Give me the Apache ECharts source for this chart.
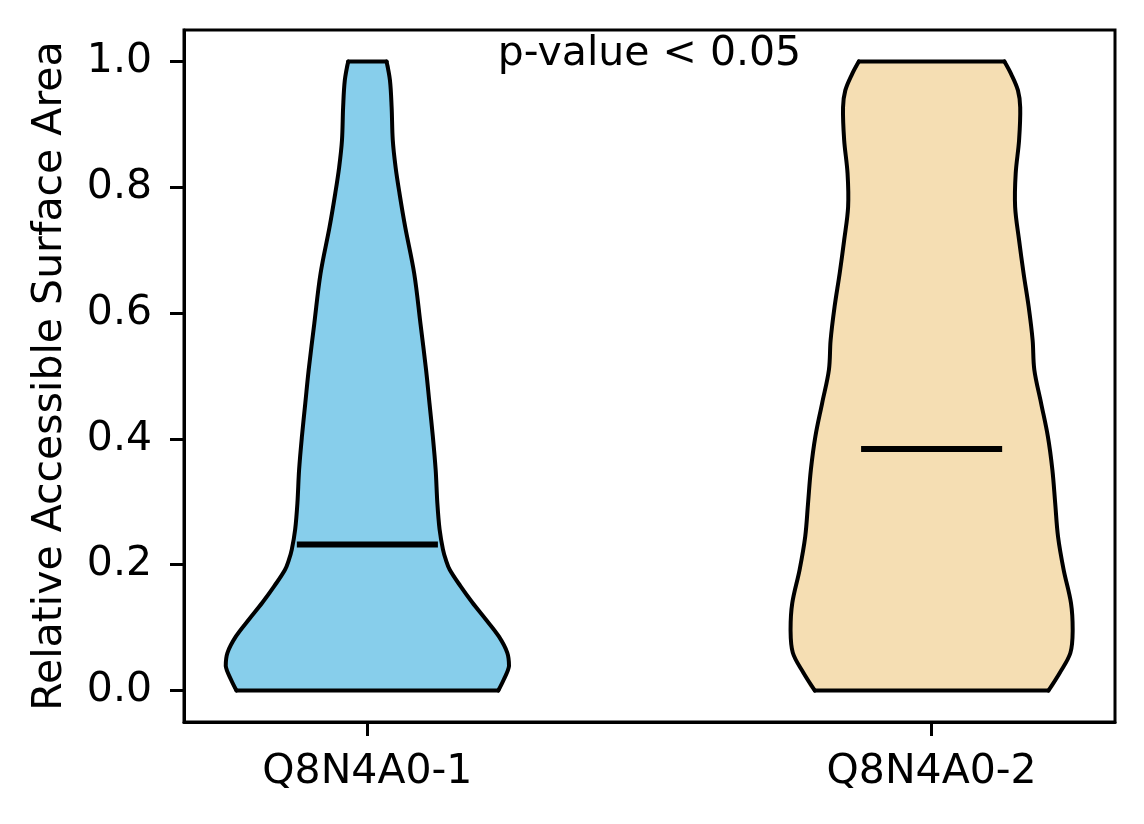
<!DOCTYPE html>
<html style="height: 100%">
<head>
    <meta charset="utf-8">
    <script src="https://cdn.jsdelivr.net/npm/echarts@6.0.0/dist/echarts.min.js"></script>
</head>
<body style="height: 100%; margin: 0; background: #fff">
<div id="container" style="width: 1144px; height: 824px"></div>

<script type="text/javascript">
    // groups and where they sit on the x axis
    var names = ['Q8N4A0-1', 'Q8N4A0-2'];
    var positions = [1, 2];
    var colors = ['#87CEEB', '#F5DEB3'];

    // violin outline: RSA value and half width (x units)
    var rsa1 = [0.000, 0.018, 0.039, 0.060, 0.086, 0.113, 0.140, 0.166, 0.192, 0.208, 0.224, 0.256, 0.298, 0.351, 0.404, 0.457, 0.510, 0.584, 0.663, 0.737, 0.790, 0.832, 0.875, 0.927, 0.970, 1.000];
    var half1 = [0.232, 0.242, 0.251, 0.248, 0.233, 0.210, 0.186, 0.165, 0.146, 0.139, 0.134, 0.128, 0.124, 0.121, 0.116, 0.110, 0.104, 0.094, 0.083, 0.067, 0.057, 0.050, 0.045, 0.043, 0.040, 0.034];

    var rsa2 = [0.000, 0.028, 0.060, 0.097, 0.139, 0.192, 0.245, 0.298, 0.351, 0.404, 0.457, 0.510, 0.557, 0.610, 0.663, 0.716, 0.769, 0.822, 0.875, 0.927, 0.954, 0.980, 1.000];
    var half2 = [0.207, 0.227, 0.246, 0.250, 0.247, 0.234, 0.224, 0.219, 0.214, 0.206, 0.194, 0.182, 0.179, 0.172, 0.163, 0.155, 0.148, 0.149, 0.155, 0.157, 0.153, 0.141, 0.129];

    var medians = [0.232, 0.384];
    var yTicks = [0, 0.2, 0.4, 0.6, 0.8, 1.0];
    var note = 'p-value < 0.05';

    var profiles = [[rsa1, half1], [rsa2, half2]];
    var font = 'DejaVu Sans';

    var dom = document.getElementById("container");
    var myChart = echarts.init(dom);

    // bounding box so the bezier smoothing never overshoots the flat ends
    function bbox(pts) {
        var lo = [Infinity, Infinity], hi = [-Infinity, -Infinity];
        pts.forEach(function (p) {
            lo[0] = Math.min(lo[0], p[0]); lo[1] = Math.min(lo[1], p[1]);
            hi[0] = Math.max(hi[0], p[0]); hi[1] = Math.max(hi[1], p[1]);
        });
        return [lo, hi];
    }

    function violinSeries(i) {
        return {
            type: 'custom',
            silent: true,
            data: [[positions[i], 0]],
            renderItem: function (params, api) {
                var ys = profiles[i][0], ws = profiles[i][1];
                var left = [], right = [];
                for (var k = 0; k < ys.length; k++) {
                    left.push(api.coord([positions[i] - ws[k], ys[k]]));
                    right.push(api.coord([positions[i] + ws[k], ys[k]]));
                }
                var all = left.concat(right.slice().reverse());
                var box = bbox(all);
                var n = ys.length - 1;
                var edge = {stroke: '#000', lineWidth: 4, lineJoin: 'round', lineCap: 'round', fill: null};
                return {
                    type: 'group',
                    children: [
                        {type: 'polygon', shape: {points: all, smooth: 0.35, smoothConstraint: box},
                            style: {fill: colors[i], stroke: null}},
                        {type: 'polyline', shape: {points: left, smooth: 0.35, smoothConstraint: box}, style: edge},
                        {type: 'polyline', shape: {points: right, smooth: 0.35, smoothConstraint: box}, style: edge},
                        {type: 'line', shape: {x1: left[0][0], y1: left[0][1], x2: right[0][0], y2: right[0][1]}, style: edge},
                        {type: 'line', shape: {x1: left[n][0], y1: left[n][1], x2: right[n][0], y2: right[n][1]}, style: edge}
                    ]
                };
            }
        };
    }

    var series = [violinSeries(0), violinSeries(1)];
    series.push({
        type: 'custom',
        silent: true,
        data: positions.map(function (p, i) { return [p, medians[i]]; }),
        renderItem: function (params, api) {
            var a = api.coord([api.value(0) - 0.125, api.value(1)]);
            var b = api.coord([api.value(0) + 0.125, api.value(1)]);
            return {
                type: 'line',
                shape: {x1: a[0], y1: a[1], x2: b[0], y2: b[1]},
                style: {stroke: '#000', lineWidth: 6}
            };
        }
    });

    myChart.setOption({
        animation: false,
        grid: {left: 184, top: 30, width: 931, height: 692, show: true, borderColor: '#000', borderWidth: 3},
        xAxis: {
            type: 'value',
            min: 0.675,
            max: 2.325,
            splitLine: {show: false},
            axisLine: {show: true, onZero: false, lineStyle: {color: '#000', width: 3}},
            axisTick: {show: true, length: 14, customValues: positions, lineStyle: {color: '#000', width: 3}},
            axisLabel: {
                customValues: positions,
                margin: 30,
                color: '#000',
                fontFamily: font,
                fontSize: 41,
                formatter: function (v) { return names[Math.round(v) - 1]; }
            }
        },
        yAxis: {
            type: 'value',
            min: -0.05,
            max: 1.05,
            name: 'Relative Accessible Surface Area',
            nameLocation: 'middle',
            nameGap: 113,
            nameTextStyle: {color: '#000', fontFamily: font, fontSize: 41},
            splitLine: {show: false},
            axisLine: {show: true, onZero: false, lineStyle: {color: '#000', width: 3}},
            axisTick: {show: true, length: 14, customValues: yTicks, lineStyle: {color: '#000', width: 3}},
            axisLabel: {
                customValues: yTicks,
                margin: 32,
                color: '#000',
                fontFamily: font,
                fontSize: 41,
                formatter: function (v) { return v.toFixed(1); }
            }
        },
        graphic: [{
            type: 'text',
            x: 649.5,
            y: 34,
            style: {text: note, fill: '#000', font: '41px "DejaVu Sans"', textAlign: 'center', textVerticalAlign: 'top'}
        }],
        series: series
    });
</script>
</body>
</html>
